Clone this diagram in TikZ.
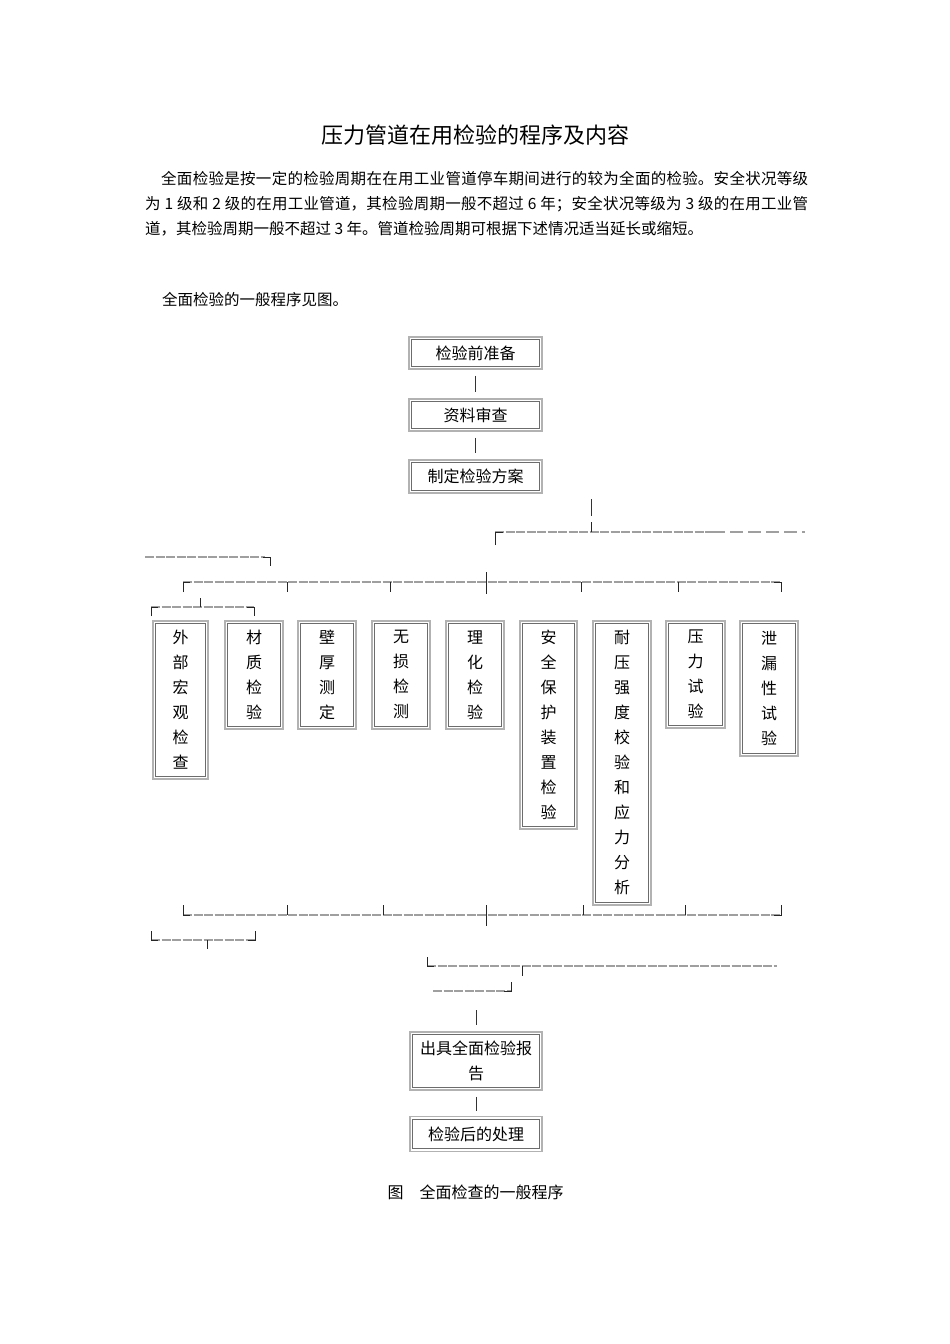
\documentclass[tikz,border=0pt]{standalone}
\usepackage{fontspec}
\setmainfont{Noto Sans CJK SC}
\XeTeXlinebreaklocale "zh"
\XeTeXlinebreakskip=0pt plus 1pt
\begin{document}
\begin{tikzpicture}[x=1pt,y=-1pt,
  box/.style={draw=gray!60, line width=1.8pt, inner sep=0pt, align=center,
    font=\fontsize{16}{25}\selectfont},
  innerline/.style={draw=gray!85!black, line width=0.7pt},
  conn/.style={draw=black!80, line width=0.9pt},
  hline/.style={draw=gray!75, line width=1.2pt, dash pattern=on 9pt off 1.5pt},
  tick/.style={draw=black!85, line width=0.9pt},
  bodytext/.style={inner sep=0pt, font=\fontsize{15.5}{25}\selectfont}]
\fill[white] (0,0) rectangle (950,1344);
\useasboundingbox (0,0) rectangle (950,1344);

% title and text
\node (title) at (475,135) {\fontsize{22}{26}\selectfont 压力管道在用检验的程序及内容};
\node[bodytext, anchor=north west, text width=663pt, align=justify] (para) at (145,171)
{\hspace*{16pt}全面检验是按一定的检验周期在在用工业管道停车期间进行的较为全面的检验。安全状况等级\linebreak 为 1 级和 2 级的在用工业管道，其检验周期一般不超过 6 年；安全状况等级为 3 级的在用工业管\linebreak 道，其检验周期一般不超过 3 年。管道检验周期可根据下述情况适当延长或缩短。};
\node[bodytext, anchor=west] (intro) at (162,300) {全面检验的一般程序见图。};

% top boxes
\node[box, minimum width=133pt, minimum height=32pt] (b1) at (475.5,353) {检验前准备};
\node[box, minimum width=133pt, minimum height=32pt] (b2) at (475.5,415) {资料审查};
\node[box, minimum width=133pt, minimum height=33pt] (b3) at (475.5,476.5) {制定检验方案};
\draw[conn, shorten <=6pt, shorten >=6pt] (b1) -- (b2);
\draw[conn, shorten <=6pt, shorten >=6pt] (b2) -- (b3);

% column boxes
\node[box, anchor=north, minimum width=55pt, minimum height=158pt] (c1) at (180.5,620) {外\\部\\宏\\观\\检\\查};
\node[box, anchor=north, minimum width=58pt, minimum height=108pt] (c2) at (254,620) {材\\质\\检\\验};
\node[box, anchor=north, minimum width=58pt, minimum height=108pt] (c3) at (327,620) {壁\\厚\\测\\定};
\node[box, anchor=north, minimum width=58pt, minimum height=108pt] (c4) at (401,620) {无\\损\\检\\测};
\node[box, anchor=north, minimum width=58pt, minimum height=108pt] (c5) at (475,620) {理\\化\\检\\验};
\node[box, anchor=north, minimum width=57pt, minimum height=208pt] (c6) at (548.5,620) {安\\全\\保\\护\\装\\置\\检\\验};
\node[box, anchor=north, minimum width=58pt, minimum height=284pt] (c7) at (622,620) {耐\\压\\强\\度\\校\\验\\和\\应\\力\\分\\析};
\node[box, anchor=north, minimum width=59pt, minimum height=107pt] (c8) at (695.5,620) {压\\力\\试\\验};
\node[box, anchor=north, minimum width=58pt, minimum height=135pt] (c9) at (769,620) {泄\\漏\\性\\试\\验};

% bottom boxes
\node[box, minimum width=132pt, minimum height=58pt] (r1) at (476,1061) {出具全面检验报\\告};
\node[box, minimum width=132pt, minimum height=35pt] (r2) at (476,1134) {检验后的处理};
\coordinate (rin) at (476,1010);
\draw[conn, shorten >=6pt] (rin) -- (r1);
\draw[conn, shorten <=6pt, shorten >=5pt] (r1) -- (r2);

% inner lines of the double borders
\foreach \n in {b1,b2,b3,c1,c2,c3,c4,c5,c6,c7,c8,c9,r1,r2}
  \draw[innerline] ([shift={(3.6pt,-3.6pt)}]\n.north west) rectangle ([shift={(-3.6pt,3.6pt)}]\n.south east);

% upper bracket rows
\coordinate (top) at (591,499);
\coordinate (topend) at (591,516);
\draw[conn] (top) -- (topend);
\draw[hline] (495,532) -- (712,532);
\draw[hline, dash pattern=on 13pt off 5pt] (712,532) -- (805,532);
\draw[tick] (495,545) -- (495,532) -- (503,532);
\draw[tick] (591,522) -- (591,532);
\draw[hline] (145,557) -- (265,557);
\draw[tick] (263,557) -- (270,557) -- (270,566);
\draw[hline] (183,582) -- (781,582);
\draw[tick] (183,592) -- (183,582) -- (190,582);
\foreach \x in {287,390,581,678} \draw[tick] (\x,582) -- (\x,592);
\draw[tick] (486,572) -- (486,594);
\draw[tick] (774,582) -- (781,582) -- (781,592);
\draw[hline] (151,607) -- (254,607);
\draw[tick] (151,616) -- (151,607) -- (158,607);
\draw[tick] (200,598) -- (200,607);
\draw[tick] (247,607) -- (254,607) -- (254,616);

% lower bracket rows
\draw[hline] (183,915) -- (781,915);
\draw[tick] (183,905) -- (183,915) -- (190,915);
\foreach \x in {287,383,583,685} \draw[tick] (\x,905) -- (\x,915);
\draw[tick] (486,905) -- (486,926);
\draw[tick] (774,915) -- (781,915) -- (781,905);
\draw[hline] (151,940) -- (255,940);
\draw[tick] (151,931) -- (151,940) -- (158,940);
\draw[tick] (207,940) -- (207,949);
\draw[tick] (248,940) -- (255,940) -- (255,931);
\draw[hline] (427,966) -- (777,966);
\draw[tick] (427,957) -- (427,966) -- (434,966);
\draw[tick] (522,966) -- (522,976);
\draw[hline] (433,991) -- (511,991);
\draw[tick] (504,991) -- (511,991) -- (511,982);

% caption
\node[inner sep=0pt, font=\fontsize{16}{20}\selectfont] (cap) at (475.5,1192) {图　全面检查的一般程序};
\end{tikzpicture}
\end{document}
